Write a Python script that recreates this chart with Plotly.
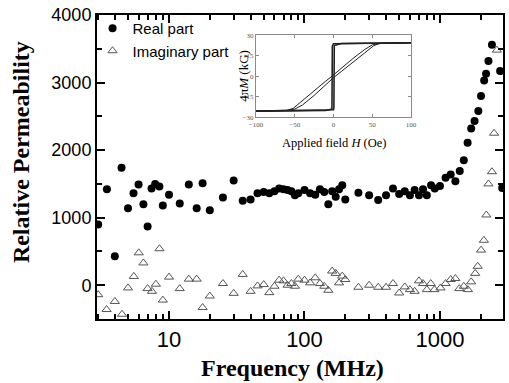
import plotly.graph_objects as go
import numpy as np

# ---- main data: relative permeability vs frequency ----
real_freq = [3.0, 3.48, 3.98, 4.46, 4.98, 5.47, 5.96, 6.47, 6.95, 7.43, 7.9, 8.49, 9.0, 10, 12, 14, 16, 17.7,
             20, 25, 30, 35, 40, 45, 50, 55, 60, 65, 70, 75, 80, 85, 90, 100, 110, 120, 130, 140, 150, 160,
             170, 180, 190, 200, 250, 300, 350, 400, 450, 500, 550, 600, 650, 700, 750, 800, 860, 915, 1000,
             1100, 1200, 1300, 1400, 1500, 1600, 1700, 1800, 1920, 2010, 2120, 2190, 2280, 2420, 2780, 2880]
real_vals = [900, 1420, 430, 1740, 1140, 1360, 1490, 1200, 870, 1430, 1500, 1460, 1180, 1340, 1210, 1490, 1140, 1510,
             1110, 1300, 1550, 1250, 1270, 1360, 1380, 1360, 1390, 1430, 1420, 1410, 1390, 1330, 1360, 1410, 1360,
             1340, 1420, 1380, 1200, 1390, 1310, 1420, 1480, 1270, 1370, 1330, 1260, 1330, 1430, 1350, 1390, 1330,
             1410, 1330, 1420, 1330, 1480, 1430, 1470, 1590, 1640, 1540, 1690, 1850, 2110, 2320, 2430, 2580, 2800,
             3030, 3130, 3320, 3560, 3170, 1440]

imag_freq = [3.0, 3.46, 3.98, 4.5, 4.98, 5.5, 5.98, 6.47, 6.95, 7.48, 8.0, 8.5, 9.0, 10, 12, 14, 16, 17.7,
             20, 25, 30, 35, 40, 45, 50, 55, 60, 65, 70, 75, 80, 85, 90, 100, 110, 120, 130, 140, 150, 160,
             170, 180, 190, 200, 250, 300, 350, 400, 450, 500, 550, 600, 650, 700, 750, 800, 855, 910, 1010,
             1100, 1200, 1300, 1390, 1500, 1610, 1700, 1820, 1900, 2010, 2110, 2200, 2280, 2420, 2510, 2630]
imag_vals = [-140, -360, -240, -430, -40, 130, 480, 330, -50, -90, 15, 540, -220, 120, -50, 90, 90, -330,
             -160, 25, -120, 160, -90, -10, 10, -110, -15, 75, 65, 0, 25, -15, 90, 75, 35, 110, 25, -15, -75, 210,
             175, 35, 135, 85, -30, 0, -30, -30, 25, -115, -25, -65, -90, 65, 25, -65, 25, -65, -40,
             25, 85, 100, -50, -15, -65, 50, 175, 280, 520, 665, 1040, 1500, 1680, 2250, 3480]

x_major = [10, 100, 1000]
x_major_text = ["10", "100", "1000"]
x_minor = [3, 4, 5, 6, 7, 8, 9, 20, 30, 40, 50, 60, 70, 80, 90, 200, 300, 400, 500, 600, 700, 800, 900, 2000, 3000]
y_major = [0, 1000, 2000, 3000, 4000]

# ---- inset data: hysteresis loops (H in Oe, 4piM in kG) ----
sq_down_H = [100, 10, 0, -1.5, -2.0, -10, -100]
sq_down_M = [24.5, 24.2, 23.8, 22.0, -24.0, -25.0, -25.5]
sq_up_H = [-100, -10, 0, 0.5, 1.0, 10, 100]
sq_up_M = [-25.5, -25.0, -24.5, -23.0, 22.5, 24.0, 24.5]
sh_down_H = [100, 60, 50, 40, 25, 10, 0, -10, -25, -40, -52, -60, -100]
sh_down_M = [24.5, 24.2, 23.0, 19.5, 13.0, 5.5, 1.0, -3.5, -10.5, -18.0, -23.5, -24.8, -25.5]
sh_up_H = [-100, -60, -50, -40, -25, -10, 0, 10, 25, 40, 52, 60, 100]
sh_up_M = [-25.5, -25.0, -24.0, -21.0, -14.0, -6.0, -1.0, 3.5, 10.0, 17.0, 22.5, 24.0, 24.5]
inset_xticks = [-100, -50, 0, 50, 100]
inset_yticks = [-30, -15, 0, 15, 30]

W, H = 509, 383
ML, MR, MT, MB = 97, 0, 15, 64
pw, ph = W - ML - MR, H - MT - MB

def px_x(p):
    return (p - ML) / pw

def px_y(p):
    return (H - MB - p) / ph

fig = go.Figure()
fig.add_trace(go.Scatter(x=real_freq, y=real_vals, mode="markers", name="Real part",
                         marker=dict(symbol="circle", size=8, color="black"), cliponaxis=True))
fig.add_trace(go.Scatter(x=imag_freq, y=imag_vals, mode="markers", name="Imaginary part",
                         marker=dict(symbol="triangle-up-open", size=8, color="#555555",
                                     line=dict(width=1, color="#555555")), cliponaxis=True))

for hh, mm, w, c in [(sq_down_H, sq_down_M, 1.6, "#222"), (sq_up_H, sq_up_M, 1.6, "#222"),
                     (sh_down_H, sh_down_M, 1.0, "#222"), (sh_up_H, sh_up_M, 1.0, "#222")]:
    fig.add_trace(go.Scatter(x=hh, y=mm, mode="lines", line=dict(color=c, width=w),
                             xaxis="x2", yaxis="y2", showlegend=False, hoverinfo="skip"))

axis_common = dict(showgrid=False, zeroline=False, showline=True, linecolor="black", linewidth=2,
                   mirror="allticks", ticks="inside", tickcolor="black", tickwidth=2, ticklen=8)

inset_font = dict(size=7, family="Liberation Serif, Times New Roman, serif", color="#555555")

fig.update_layout(
    width=W, height=H,
    margin=dict(l=ML, r=MR, t=MT, b=MB, pad=0),
    paper_bgcolor="white", plot_bgcolor="white",
    font=dict(family="Liberation Sans, Arial, sans-serif", color="black"),
    xaxis=dict(type="log", range=[np.log10(2.94), np.log10(2920)], tickvals=x_major, ticktext=x_major_text,
               tickfont=dict(size=22), domain=[0, 1],
               minor=dict(tickvals=x_minor, ticks="inside", ticklen=5, tickwidth=1.5, tickcolor="black"),
               **axis_common),
    yaxis=dict(range=[-500, 4000], tickvals=y_major, tickfont=dict(size=18), domain=[0, 1],
               minor=dict(dtick=500, ticks="inside", ticklen=5, tickwidth=1.5, tickcolor="black"),
               **axis_common),
    xaxis2=dict(domain=[px_x(258.3), px_x(415.7)], anchor="y2", range=[-100, 100], tickvals=inset_xticks,
                showgrid=False, zeroline=False, showline=True, linecolor="#8a8a8a", linewidth=1,
                mirror="ticks", ticks="inside", ticklen=3, tickcolor="#8a8a8a", tickfont=inset_font),
    yaxis2=dict(domain=[px_y(117.3), px_y(35.3)], anchor="x2", range=[-30, 30], tickvals=inset_yticks,
                showgrid=False, zeroline=False, showline=True, linecolor="#8a8a8a", linewidth=1,
                mirror="ticks", ticks="inside", ticklen=3, tickcolor="#8a8a8a", tickfont=inset_font),
    legend=dict(x=-0.011, y=1.01, xanchor="left", yanchor="top", bgcolor="rgba(0,0,0,0)",
                font=dict(size=15, family="Liberation Sans, Arial, sans-serif"), tracegroupgap=0,
                itemwidth=30),
    showlegend=True,
)

serif = "Liberation Serif, Times New Roman, serif"
fig.add_annotation(text="<b>Frequency (MHz)</b>", x=px_x(295), y=px_y(368), xref="paper", yref="paper",
                   showarrow=False, font=dict(size=24, family=serif), xanchor="center", yanchor="middle")
fig.add_annotation(text="<b>Relative Permeability</b>", x=px_x(20), y=px_y(152), xref="paper", yref="paper",
                   showarrow=False, font=dict(size=24, family=serif), textangle=-90,
                   xanchor="center", yanchor="middle")
fig.add_annotation(text="4π<i>M</i> (kG)", x=px_x(245), y=px_y(76), xref="paper", yref="paper",
                   showarrow=False, font=dict(size=13, family=serif), textangle=-90,
                   xanchor="center", yanchor="middle")
fig.add_annotation(text="Applied field <i>H</i> (Oe)", x=px_x(338), y=px_y(143), xref="paper", yref="paper",
                   showarrow=False, font=dict(size=12.5, family=serif), xanchor="center", yanchor="middle")

fig.write_html("out.html")
